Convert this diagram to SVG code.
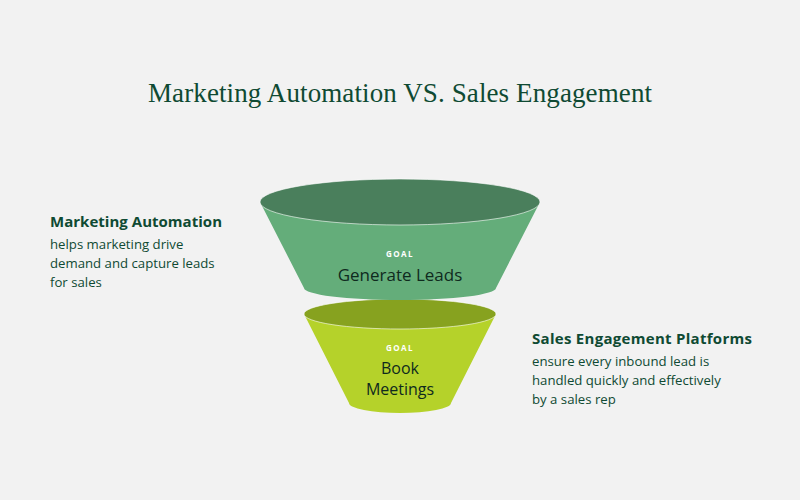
<svg xmlns="http://www.w3.org/2000/svg" width="800" height="500" viewBox="0 0 800 500">
<style>
.t{font-family:"Liberation Serif",serif;fill:#0f4a33}
.h{font-family:"Open Sans","Liberation Sans",sans-serif;font-weight:bold;fill:#0f4a33}
.b{font-family:"Open Sans","Liberation Sans",sans-serif;fill:#0f4a33}
.g{font-family:"Open Sans","Liberation Sans",sans-serif;font-weight:bold;fill:#ffffff;font-size:8px;letter-spacing:1.5px}
.n{font-family:"Open Sans","Liberation Sans",sans-serif;fill:#0f2a1e;text-anchor:middle}
</style>
<rect width="800" height="500" fill="#f2f2f2"/>
<text class="t" x="400" y="102" font-size="27" text-anchor="middle" textLength="504">Marketing Automation VS. Sales Engagement</text>
<g id="funnel-bottom">
<path d="M304,314 L349,403 A51,10 0 0 0 451,403 L496,314 Z" fill="#b5d22a"/>
<ellipse cx="400" cy="314" rx="96" ry="15" fill="#87a21f" stroke="#ffffff" stroke-width="0.6"/>
<text class="g" x="400" y="351" text-anchor="middle">GOAL</text>
<text class="n" x="400" y="374" font-size="16">Book</text>
<text class="n" x="400" y="395" font-size="16">Meetings</text>
</g>
<g id="funnel-top">
<path d="M260,202 L304,288 A96,12 0 0 0 496,288 L540,202 Z" fill="#64ad7a"/>
<ellipse cx="400" cy="202" rx="140" ry="23" fill="#4a7f5c" stroke="#ffffff" stroke-width="0.6"/>
<text class="g" x="400" y="257" text-anchor="middle">GOAL</text>
<text class="n" x="400" y="281" font-size="17">Generate Leads</text>
</g>
<g id="marketing-automation">
<text class="h" x="50" y="227" font-size="15" textLength="172">Marketing Automation</text>
<text class="b" x="50" y="249" font-size="13.2">helps marketing drive</text>
<text class="b" x="50" y="268" font-size="13.2">demand and capture leads</text>
<text class="b" x="50" y="287" font-size="13.2">for sales</text>
</g>
<g id="sales-engagement">
<text class="h" x="532" y="344" font-size="15" textLength="220">Sales Engagement Platforms</text>
<text class="b" x="532" y="366" font-size="13.2">ensure every inbound lead is</text>
<text class="b" x="532" y="385" font-size="13.2">handled quickly and effectively</text>
<text class="b" x="532" y="404" font-size="13.2">by a sales rep</text>
</g>
<g id="connectors"/>
</svg>
